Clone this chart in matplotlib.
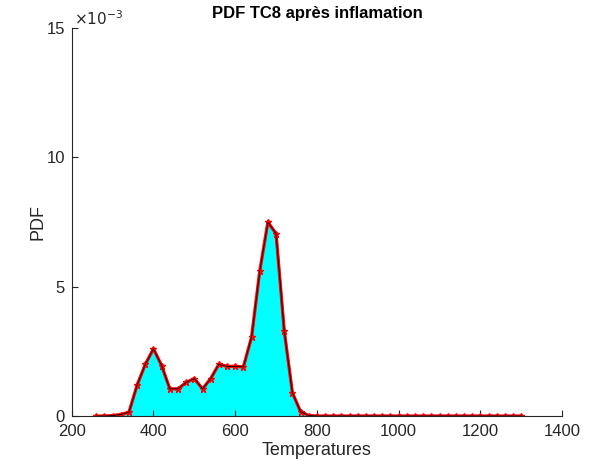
import numpy as np
import matplotlib.pyplot as plt

plt.rcParams['font.family'] = ['Liberation Sans', 'DejaVu Sans']

# temperature grid and estimated pdf values (x 1e-3)
temps = np.arange(260, 1301, 20)
pdf_front = [0.0, 0.0, 0.02, 0.06, 0.15, 1.2, 2.0, 2.6, 1.95, 1.05,
             1.05, 1.3, 1.45, 1.05, 1.45, 2.0, 1.92, 1.92, 1.9, 3.05,
             5.6, 7.5, 7.05, 3.3, 0.9, 0.17, 0.02]
pdf = np.zeros(len(temps))
pdf[:len(pdf_front)] = pdf_front
pdf = pdf * 1e-3

fig, ax = plt.subplots(figsize=(5.98, 4.68), dpi=100)
fig.subplots_adjust(left=0.120, right=0.940, bottom=0.111, top=0.940)

ax.fill_between(temps, pdf, 0, color='cyan', zorder=1)
ax.plot(temps, pdf, '-*', color='red', lw=2.3, ms=5, mew=1, zorder=2)
ax.plot(temps, pdf, '-', color='black', lw=0.6, zorder=3)

ax.set_xlim(200, 1400)
ax.set_ylim(0, 0.015)
ax.set_xticks([200, 400, 600, 800, 1000, 1200, 1400])
ax.set_yticks([0, 0.005, 0.01, 0.015])
ax.set_yticklabels(['0', '5', '10', '15'])
ax.spines['top'].set_visible(False)
ax.spines['right'].set_visible(False)
for s in ['left', 'bottom']:
    ax.spines[s].set_color('#262626')
    ax.spines[s].set_linewidth(0.8)
ax.tick_params(direction='in', length=4, colors='#262626', labelsize=12, width=0.8)
ax.tick_params(axis='x', pad=6)
ax.tick_params(axis='y', pad=5)

ax.text(0.005, 1.0, r'$\times10^{-3}$', transform=ax.transAxes, fontsize=11,
        color='#262626', ha='left', va='bottom', family='DejaVu Sans')

ax.set_title('PDF TC8 après inflamation', fontsize=12, fontweight='bold', pad=7)
ax.set_xlabel('Temperatures', fontsize=13, color='#262626', labelpad=2)
ax.set_ylabel('PDF', fontsize=13, color='#262626', labelpad=0)

fig.savefig('out.png', dpi=100)
